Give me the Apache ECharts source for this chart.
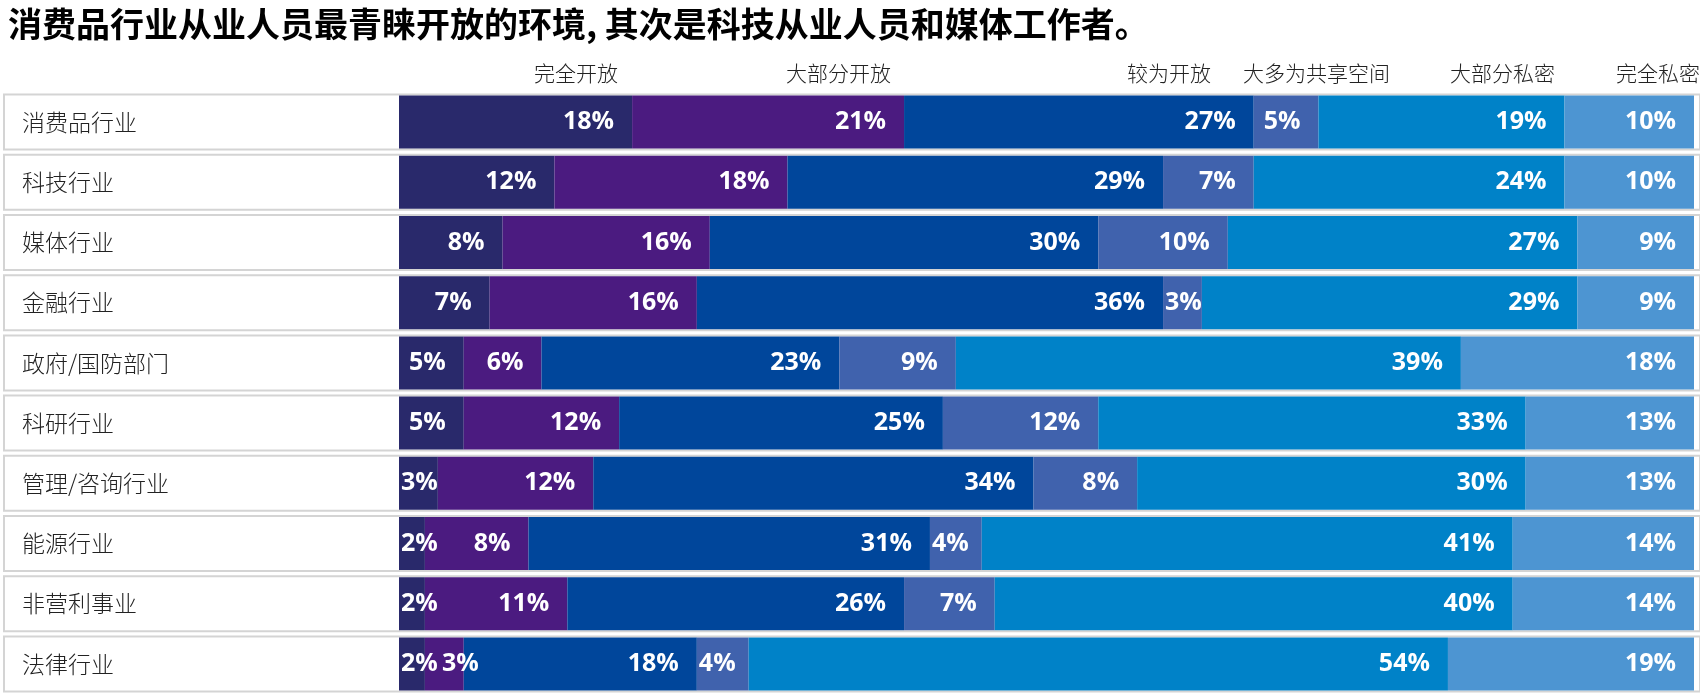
<!DOCTYPE html>
<html>
<head>
<meta charset="utf-8">
<script src="https://cdn.jsdelivr.net/npm/echarts@6/dist/echarts.min.js"></script>
<style>
  html, body { margin: 0; padding: 0; background: #fff; }
  #main { width: 1700px; height: 698px; }
</style>
</head>
<body>
<div id="main"></div>
<script>
// 数据
var categories = ['消费品行业', '科技行业', '媒体行业', '金融行业', '政府/国防部门', '科研行业', '管理/咨询行业', '能源行业', '非营利事业', '法律行业'];
var seriesNames = ['完全开放', '大部分开放', '较为开放', '大多为共享空间', '大部分私密', '完全私密'];
var fullyOpen    = [18, 12, 8, 7, 5, 5, 3, 2, 2, 2];
var mostlyOpen   = [21, 18, 16, 16, 6, 12, 12, 8, 11, 3];
var fairlyOpen   = [27, 29, 30, 36, 23, 25, 34, 31, 26, 18];
var sharedSpace  = [5, 7, 10, 3, 9, 12, 8, 4, 7, 4];
var mostlyPriv   = [19, 24, 27, 29, 39, 33, 30, 41, 40, 54];
var fullyPriv    = [10, 10, 9, 9, 18, 13, 13, 14, 14, 19];
var seriesValues = [fullyOpen, mostlyOpen, fairlyOpen, sharedSpace, mostlyPriv, fullyPriv];

var colors = ['#29296b', '#4b1b80', '#00469b', '#4062ad', '#0082c8', '#4d95d2'];
// 表头文字右端位置
var headerRight = [618, 891, 1211, 1390, 1555, 1700];

var myChart = echarts.init(document.getElementById('main'));

var series = seriesValues.map(function (vals, si) {
    return {
        name: seriesNames[si],
        type: 'bar',
        stack: 'all',
        barWidth: 53,
        silent: true,
        itemStyle: { color: colors[si] },
        label: {
            show: true,
            position: 'insideRight',
            distance: 18,
            formatter: '{c}%',
            color: '#fff',
            fontFamily: 'Open Sans, sans-serif',
            fontWeight: 'bold',
            fontSize: 25
        },
        data: vals.map(function (v, i) {
            if (v > 4) return v;
            // 小块标签靠左
            var prev = si > 0 ? seriesValues[si - 1][i] : 99;
            return {
                value: v,
                label: { position: 'insideLeft', distance: prev <= 2 ? 17 : 2 }
            };
        })
    };
});

var option = {
    animation: false,
    title: {
        text: '消费品行业从业人员最青睐开放的环境, 其次是科技从业人员和媒体工作者。',
        left: 3,
        top: 2,
        textStyle: {
            color: '#000',
            fontSize: 34,
            fontWeight: 'bold',
            fontFamily: 'Noto Sans CJK SC'
        }
    },
    graphic: seriesNames.map(function (n, i) {
        return {
            type: 'text',
            x: headerRight[i],
            y: 73,
            style: {
                text: n,
                textAlign: 'right',
                textVerticalAlign: 'middle',
                fill: '#222',
                fontSize: 21,
                fontFamily: 'Noto Sans CJK SC',
                fontWeight: 300
            }
        };
    }),
    grid: {
        left: 399,
        right: 2,
        top: 92,
        height: 602
    },
    xAxis: {
        type: 'value',
        min: 0,
        max: 100,
        show: false
    },
    yAxis: {
        type: 'category',
        inverse: true,
        data: categories,
        axisLine: { show: false },
        axisTick: { show: false },
        splitLine: { show: false },
        axisLabel: {
            interval: 0,
            margin: 394,
            align: 'left',
            width: 1677,
            height: 53,
            lineHeight: 53,
            padding: [0, 0, 0, 17],
            backgroundColor: '#fff',
            borderColor: '#d4d4d4',
            borderWidth: 2,
            color: '#222',
            fontSize: 23,
            fontFamily: 'Noto Sans CJK SC',
            fontWeight: 300
        }
    },
    series: series
};
myChart.setOption(option);
</script>
</body>
</html>
